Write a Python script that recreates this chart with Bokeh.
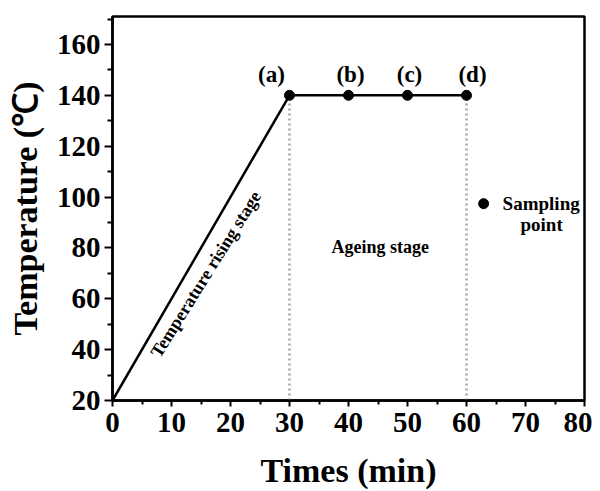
from bokeh.plotting import figure
from bokeh.models import Range1d, Label, FixedTicker
from bokeh.embed import file_html
from bokeh.resources import INLINE

# ---- data ----
ramp_time = [0, 30]
ramp_temp = [20, 140]
hold_time = [30, 60]
hold_temp = [140, 140]
sample_time = [30, 40, 50, 60]
sample_temp = [140, 140, 140, 140]
sample_labels = ["(a)", "(b)", "(c)", "(d)"]
stage_bounds = [30, 60]
x_ticks = [0, 10, 20, 30, 40, 50, 60, 70, 80]
y_ticks = [20, 40, 60, 80, 100, 120, 140, 160]

FONT = "Liberation Serif"

p = figure(width=592, height=491, output_backend="svg", toolbar_location=None,
           x_range=Range1d(0, 80), y_range=Range1d(20, 171),
           min_border_left=112, min_border_top=16, min_border_right=8, min_border_bottom=89)
p.grid.visible = False
p.outline_line_color = "black"
p.outline_line_width = 2.5
p.background_fill_color = "white"
p.border_fill_color = "white"

for ax in (p.xaxis[0], p.yaxis[0]):
    ax.axis_line_width = 2.5
    ax.major_tick_line_width = 2
    ax.minor_tick_line_width = 2
    ax.major_tick_in = 0
    ax.minor_tick_in = 0
    ax.major_label_text_font = FONT
    ax.major_label_text_font_style = "bold"
    ax.major_label_text_font_size = "29px"
    ax.major_label_text_color = "black"
    ax.axis_label_text_font = FONT
    ax.axis_label_text_font_style = "bold"
    ax.axis_label_text_color = "black"

p.xaxis[0].ticker = FixedTicker(ticks=x_ticks, minor_ticks=[v + 5 for v in x_ticks[:-1]])
p.yaxis[0].ticker = FixedTicker(ticks=y_ticks, minor_ticks=[v + 10 for v in y_ticks])
p.xaxis[0].major_tick_out = 6
p.xaxis[0].minor_tick_out = 4
p.yaxis[0].major_tick_out = 8
p.yaxis[0].minor_tick_out = 5
p.xaxis[0].major_label_standoff = 6
p.yaxis[0].major_label_standoff = 4
p.xaxis[0].axis_label = "Times (min)"
p.yaxis[0].axis_label = "Temperature (\u2103)"
p.xaxis[0].axis_label_text_font_size = "34px"
p.yaxis[0].axis_label_text_font_size = "34px"
p.xaxis[0].axis_label_standoff = 17
p.yaxis[0].axis_label_standoff = 10

# dotted stage boundaries
for xb in stage_bounds:
    p.line([xb, xb], [ramp_temp[0], hold_temp[0]], line_color="#b3b3b3",
           line_width=3, line_dash="2 3")

p.line(ramp_time, ramp_temp, line_color="black", line_width=2.5)
p.line(hold_time, hold_temp, line_color="black", line_width=2.5)
p.scatter(sample_time, sample_temp, size=10, color="black")

offsets = [-18, 2, 2, 6]
for t, temp, lab, dx in zip(sample_time, sample_temp, sample_labels, offsets):
    p.add_layout(Label(x=t, y=temp, text=lab, x_offset=dx, y_offset=21,
                       text_align="center", text_baseline="middle",
                       text_font=FONT, text_font_style="bold",
                       text_font_size="23px", text_color="black"))

p.add_layout(Label(x=15.8, y=69.7, text="Temperature rising stage", angle=58,
                   angle_units="deg", text_align="center", text_baseline="middle",
                   text_font=FONT, text_font_style="bold", text_font_size="18px",
                   text_color="black"))
p.add_layout(Label(x=45.4, y=80.2, text="Ageing stage", text_align="center",
                   text_baseline="middle", text_font=FONT, text_font_style="bold",
                   text_font_size="18px", text_color="black"))

# legend-like sampling point
p.scatter([62.9], [97.4], size=10, color="black")
p.add_layout(Label(x=62.9, y=97.4, text="Sampling", x_offset=19, text_align="left",
                   text_baseline="middle", text_font=FONT, text_font_style="bold",
                   text_font_size="19px", text_color="black"))
p.add_layout(Label(x=62.9, y=97.4, text="point", x_offset=58, y_offset=-21,
                   text_align="center", text_baseline="middle", text_font=FONT,
                   text_font_style="bold", text_font_size="19px", text_color="black"))

open("out.html", "w").write(file_html(p, INLINE))
